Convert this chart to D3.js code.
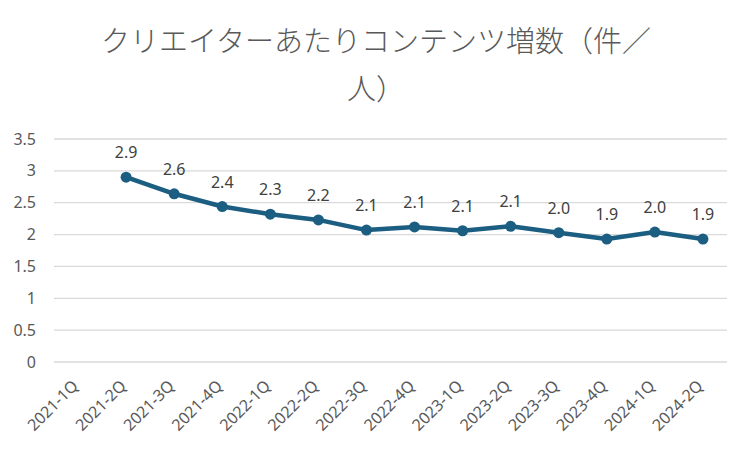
<!DOCTYPE html>
<html><head><meta charset="utf-8">
<script src="https://cdn.jsdelivr.net/npm/d3@7"></script>
<style>
body{margin:0;background:#fff;}
svg{display:block;}
</style></head>
<body>
<svg id="chart" width="750" height="449"></svg>
<script>
const titleLines = ["クリエイターあたりコンテンツ増数（件／", "人）"];
const categories = ["2021-1Q","2021-2Q","2021-3Q","2021-4Q","2022-1Q","2022-2Q","2022-3Q","2022-4Q","2023-1Q","2023-2Q","2023-3Q","2023-4Q","2024-1Q","2024-2Q"];
const values = [null, 2.90, 2.64, 2.44, 2.32, 2.23, 2.07, 2.12, 2.06, 2.13, 2.03, 1.93, 2.04, 1.93];
const yTicks = [0, 0.5, 1, 1.5, 2, 2.5, 3, 3.5];

const svg = d3.select("#chart");
const W = 750, H = 449;
const m = {left: 54, right: 23, top: 139, bottom: 87};
const x = d3.scaleBand().domain(categories).range([m.left, W - m.right]);
const y = d3.scaleLinear().domain([0, 3.5]).range([H - m.bottom, m.top]);
const textColor = "#595959";
const font = "'Noto Sans', 'Liberation Sans', sans-serif";

// title
svg.append("g").selectAll("text").data(titleLines).join("text")
  .attr("x", 376).attr("y", (d, i) => 52 + i * 48)
  .attr("text-anchor", "middle")
  .attr("font-family", "'Noto Sans CJK JP', sans-serif")
  .attr("font-weight", 300)
  .attr("font-size", 29)
  .attr("fill", textColor)
  .text(d => d);

// gridlines
svg.append("g").selectAll("line").data(yTicks).join("line")
  .attr("x1", m.left).attr("x2", W - m.right)
  .attr("y1", d => y(d)).attr("y2", d => y(d))
  .attr("stroke", "#d9d9d9").attr("stroke-width", 1.3);

// y axis
const yAxis = d3.axisLeft(y).tickValues(yTicks).tickSize(0).tickPadding(18).tickFormat(d3.format("~g"));
const gy = svg.append("g").attr("transform", `translate(${m.left},0)`).call(yAxis);
gy.select(".domain").remove();
gy.selectAll("text").attr("font-family", font).attr("font-size", 16).attr("fill", textColor);

// x axis
const xAxis = d3.axisBottom(x).tickSize(0).tickPadding(0);
const gx = svg.append("g").attr("transform", `translate(0,${H - m.bottom})`).call(xAxis);
gx.select(".domain").remove();
gx.selectAll("text")
  .attr("font-family", font).attr("font-size", 16).attr("fill", textColor)
  .attr("text-anchor", "end")
  .attr("dy", null)
  .attr("transform", "translate(1,25) rotate(-45)");

// line
const pts = categories.map((c, i) => ({c, v: values[i]})).filter(d => d.v != null);
const line = d3.line().x(d => x(d.c) + x.bandwidth() / 2).y(d => y(d.v));
const color = "#1b5e82";
svg.append("path").datum(pts)
  .attr("d", line).attr("fill", "none")
  .attr("stroke", color).attr("stroke-width", 4.5)
  .attr("stroke-linejoin", "round").attr("stroke-linecap", "round");

svg.append("g").selectAll("circle").data(pts).join("circle")
  .attr("cx", d => x(d.c) + x.bandwidth() / 2)
  .attr("cy", d => y(d.v))
  .attr("r", 5.5).attr("fill", color);

// data labels
svg.append("g").selectAll("text").data(pts).join("text")
  .attr("x", d => x(d.c) + x.bandwidth() / 2)
  .attr("y", d => y(d.v) - 19)
  .attr("text-anchor", "middle")
  .attr("font-family", font).attr("font-size", 16)
  .attr("fill", "#404040")
  .text(d => d3.format(".1f")(d.v));
</script>
</body></html>
